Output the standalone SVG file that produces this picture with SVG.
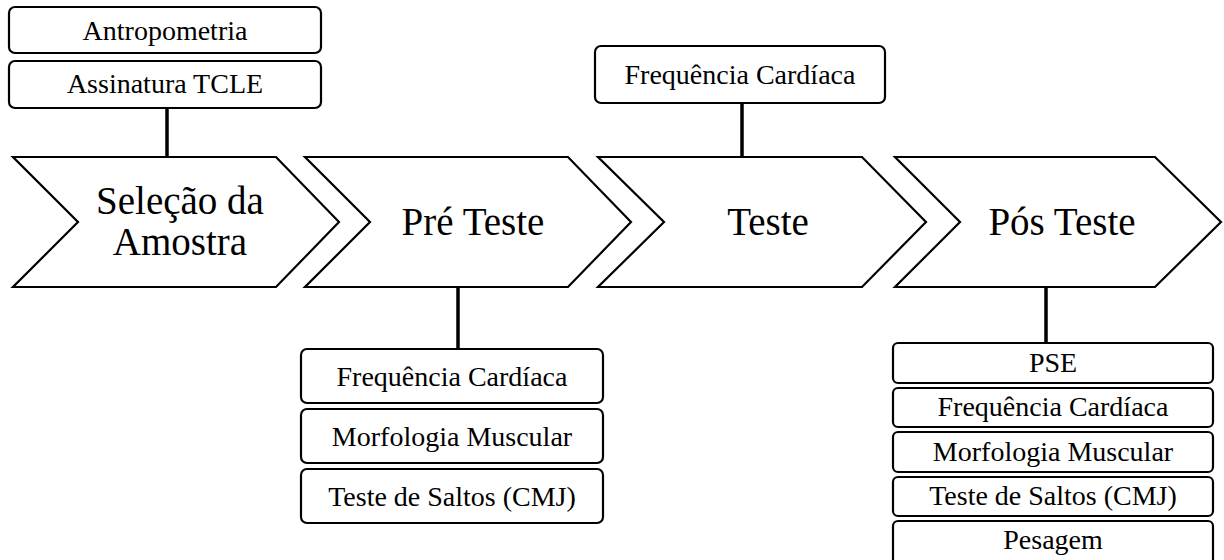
<svg xmlns="http://www.w3.org/2000/svg" width="1224" height="560" viewBox="0 0 1224 560">
<rect width="1224" height="560" fill="#fff"/>
<g id="connectors" stroke="#000" stroke-width="3.5" fill="none">
<line x1="167" y1="108" x2="167" y2="157"/>
<line x1="742" y1="103" x2="742" y2="157"/>
<line x1="458" y1="287" x2="458" y2="349"/>
<line x1="1046" y1="287" x2="1046" y2="343"/>
</g>
<g id="selecao">
<polygon fill="#fff" stroke="#000" stroke-width="2.2" points="13,157 276,157 339,222 276,287 13,287 78,222"/>
<text x="180" y="214" font-family="Times New Roman" font-size="39" text-anchor="middle">Seleção da</text>
<text x="180" y="255" font-family="Times New Roman" font-size="39" text-anchor="middle">Amostra</text>
</g>
<g id="preteste">
<polygon fill="#fff" stroke="#000" stroke-width="2.2" points="305,157 568,157 631,222 568,287 305,287 370,222"/>
<text x="473" y="235" font-family="Times New Roman" font-size="39" text-anchor="middle">Pré Teste</text>
</g>
<g id="teste">
<polygon fill="#fff" stroke="#000" stroke-width="2.2" points="598,157 862,157 926,222 862,287 598,287 664,222"/>
<text x="768" y="235" font-family="Times New Roman" font-size="39" text-anchor="middle">Teste</text>
</g>
<g id="posteste">
<polygon fill="#fff" stroke="#000" stroke-width="2.2" points="895,157 1155,157 1221,222 1155,287 895,287 960,222"/>
<text x="1062" y="235" font-family="Times New Roman" font-size="39" text-anchor="middle">Pós Teste</text>
</g>
<g id="antropometria">
<rect fill="#fff" stroke="#000" stroke-width="2.2" x="9" y="7" width="312" height="46" rx="6"/>
<text x="165" y="40" font-family="Times New Roman" font-size="28" text-anchor="middle">Antropometria</text>
</g>
<g id="assinatura">
<rect fill="#fff" stroke="#000" stroke-width="2.2" x="9" y="61" width="312" height="47" rx="6"/>
<text x="165" y="93" font-family="Times New Roman" font-size="28" text-anchor="middle">Assinatura TCLE</text>
</g>
<g id="teste-fc">
<rect fill="#fff" stroke="#000" stroke-width="2.2" x="595" y="46" width="290" height="57" rx="6"/>
<text x="740" y="84" font-family="Times New Roman" font-size="28" text-anchor="middle">Frequência Cardíaca</text>
</g>
<g id="pre-fc">
<rect fill="#fff" stroke="#000" stroke-width="2.2" x="301" y="349" width="302" height="54" rx="6"/>
<text x="452" y="386" font-family="Times New Roman" font-size="28" text-anchor="middle">Frequência Cardíaca</text>
</g>
<g id="pre-morf">
<rect fill="#fff" stroke="#000" stroke-width="2.2" x="301" y="409" width="302" height="54" rx="6"/>
<text x="452" y="446" font-family="Times New Roman" font-size="28" text-anchor="middle">Morfologia Muscular</text>
</g>
<g id="pre-cmj">
<rect fill="#fff" stroke="#000" stroke-width="2.2" x="301" y="469" width="302" height="54" rx="6"/>
<text x="452" y="506" font-family="Times New Roman" font-size="28" text-anchor="middle">Teste de Saltos (CMJ)</text>
</g>
<g id="pos-pse">
<rect fill="#fff" stroke="#000" stroke-width="2.2" x="893" y="343" width="320" height="40" rx="5"/>
<text x="1053" y="372" font-family="Times New Roman" font-size="28" text-anchor="middle">PSE</text>
</g>
<g id="pos-fc">
<rect fill="#fff" stroke="#000" stroke-width="2.2" x="893" y="388" width="320" height="39" rx="5"/>
<text x="1053" y="416" font-family="Times New Roman" font-size="28" text-anchor="middle">Frequência Cardíaca</text>
</g>
<g id="pos-morf">
<rect fill="#fff" stroke="#000" stroke-width="2.2" x="893" y="432" width="320" height="40" rx="5"/>
<text x="1053" y="461" font-family="Times New Roman" font-size="28" text-anchor="middle">Morfologia Muscular</text>
</g>
<g id="pos-cmj">
<rect fill="#fff" stroke="#000" stroke-width="2.2" x="893" y="477" width="320" height="39" rx="5"/>
<text x="1053" y="505" font-family="Times New Roman" font-size="28" text-anchor="middle">Teste de Saltos (CMJ)</text>
</g>
<g id="pos-pesagem">
<rect fill="#fff" stroke="#000" stroke-width="2.2" x="893" y="521" width="320" height="44" rx="5"/>
<text x="1053" y="549" font-family="Times New Roman" font-size="28" text-anchor="middle">Pesagem</text>
</g>
</svg>
